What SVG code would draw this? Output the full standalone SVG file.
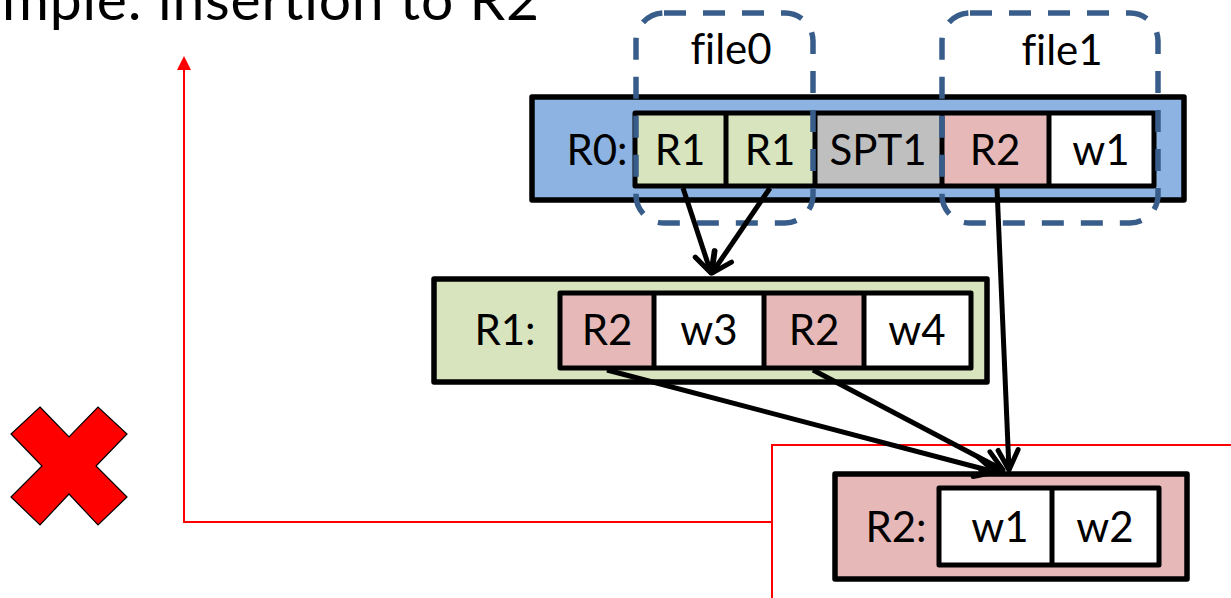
<svg xmlns="http://www.w3.org/2000/svg" width="1231" height="598" viewBox="0 0 1231 598">
<style>
text{font-family:Lato,"Liberation Sans",sans-serif;fill:#000;font-variant-ligatures:none;font-feature-settings:"liga" 0}
.lbl{font-size:42px;text-anchor:middle}
.outer{stroke:#000;stroke-width:5.5;stroke-linejoin:round}
.cell{stroke:#000;stroke-width:5;stroke-linejoin:round}
.div{stroke:#000;stroke-width:5}
.file{fill:none;stroke:#385D8A;stroke-width:5.5;stroke-dasharray:22 17}
.arr{stroke:#000;stroke-width:5;fill:none;marker-end:url(#open)}
.red{fill:none;stroke:#FF0000;stroke-width:2}
</style>
<defs>
<marker id="open" viewBox="0 0 26 26" markerWidth="26" markerHeight="26" markerUnits="userSpaceOnUse" refX="23" refY="13" orient="auto">
<path d="M3,3 L23,13 L3,23" fill="none" stroke="#000" stroke-width="5" stroke-linecap="round" stroke-linejoin="round"/>
</marker>
<marker id="redhead" viewBox="0 0 16 14" markerWidth="16" markerHeight="14" markerUnits="userSpaceOnUse" refX="2" refY="7" orient="auto">
<path d="M0,0 L14,7 L0,14 Z" fill="#FF0000"/>
</marker>
</defs>
<rect width="1231" height="598" fill="#fff"/>
<g id="title">
<text x="2" y="20" font-size="57" textLength="537" lengthAdjust="spacing">mple: insertion to R2</text>
</g>
<g id="red-lines">
<path class="red" d="M772,522 H184 V68" marker-end="url(#redhead)"/>
<path class="red" d="M772,600 V445 H1233"/>
</g>
<g id="cross">
<polygon points="40,407 69,437 98,407 127,434 96,466 127,497 98,525 69,494 40,525 11,497 42,466 11,434" fill="#FF0000" stroke="#000" stroke-width="1.2" stroke-linejoin="miter"/>
</g>
<g id="r0">
<rect class="outer" x="532" y="97" width="652" height="103" fill="#8DB3E2"/>
<rect x="635" y="113" width="91" height="73" fill="#D7E4BD"/>
<rect x="726" y="113" width="89" height="73" fill="#D7E4BD"/>
<rect x="815" y="113" width="127" height="73" fill="#BFBFBF"/>
<rect x="942" y="113" width="107" height="73" fill="#E6B9B8"/>
<rect x="1049" y="113" width="105" height="73" fill="#FFFFFF"/>
<line class="div" x1="726" y1="113" x2="726" y2="186"/>
<line class="div" x1="815" y1="113" x2="815" y2="186"/>
<line class="div" x1="942" y1="113" x2="942" y2="186"/>
<line class="div" x1="1049" y1="113" x2="1049" y2="186"/>
<rect class="cell" x="635" y="113" width="519" height="73" fill="none"/>
<text class="lbl" x="597" y="165">R0:</text>
<text class="lbl" x="680" y="165">R1</text>
<text class="lbl" x="770" y="165">R1</text>
<text class="lbl" x="878" y="165">SPT1</text>
<text class="lbl" x="995" y="165">R2</text>
<text class="lbl" x="1101" y="165">w1</text>
</g>
<g id="file0">
<rect class="file" x="636" y="13" width="177" height="210" rx="28" ry="28"/>
<text class="lbl" x="731" y="64">file0</text>
</g>
<g id="file1">
<rect class="file" x="942" y="13" width="216" height="210" rx="28" ry="28"/>
<text class="lbl" x="1062" y="65">file1</text>
</g>
<g id="r1">
<rect class="outer" x="434" y="279" width="553" height="103" fill="#D7E4BD"/>
<rect x="560" y="293" width="94" height="75" fill="#E6B9B8"/>
<rect x="654" y="293" width="110" height="75" fill="#FFFFFF"/>
<rect x="764" y="293" width="100" height="75" fill="#E6B9B8"/>
<rect x="864" y="293" width="107" height="75" fill="#FFFFFF"/>
<line class="div" x1="654" y1="293" x2="654" y2="368"/>
<line class="div" x1="764" y1="293" x2="764" y2="368"/>
<line class="div" x1="864" y1="293" x2="864" y2="368"/>
<rect class="cell" x="560" y="293" width="411" height="75" fill="none"/>
<text class="lbl" x="505" y="345">R1:</text>
<text class="lbl" x="607" y="345">R2</text>
<text class="lbl" x="709" y="345">w3</text>
<text class="lbl" x="814" y="345">R2</text>
<text class="lbl" x="917" y="345">w4</text>
</g>
<g id="r2">
<rect class="outer" x="835" y="474" width="352" height="105" fill="#E6B9B8"/>
<rect x="939" y="488" width="113" height="77" fill="#FFFFFF"/>
<rect x="1052" y="488" width="107" height="77" fill="#FFFFFF"/>
<line class="div" x1="1052" y1="488" x2="1052" y2="565"/>
<rect class="cell" x="939" y="488" width="220" height="77" fill="none"/>
<text class="lbl" x="896" y="542">R2:</text>
<text class="lbl" x="1000" y="542">w1</text>
<text class="lbl" x="1105" y="542">w2</text>
</g>
<g id="connectors">
<line class="arr" x1="683" y1="188" x2="711" y2="273"/>
<line class="arr" x1="770" y1="188" x2="712" y2="273"/>
<line class="arr" x1="997" y1="188" x2="1009" y2="470"/>
<line class="arr" x1="607" y1="370" x2="995" y2="472"/>
<line class="arr" x1="813" y1="370" x2="1003" y2="470"/>
</g>
</svg>
